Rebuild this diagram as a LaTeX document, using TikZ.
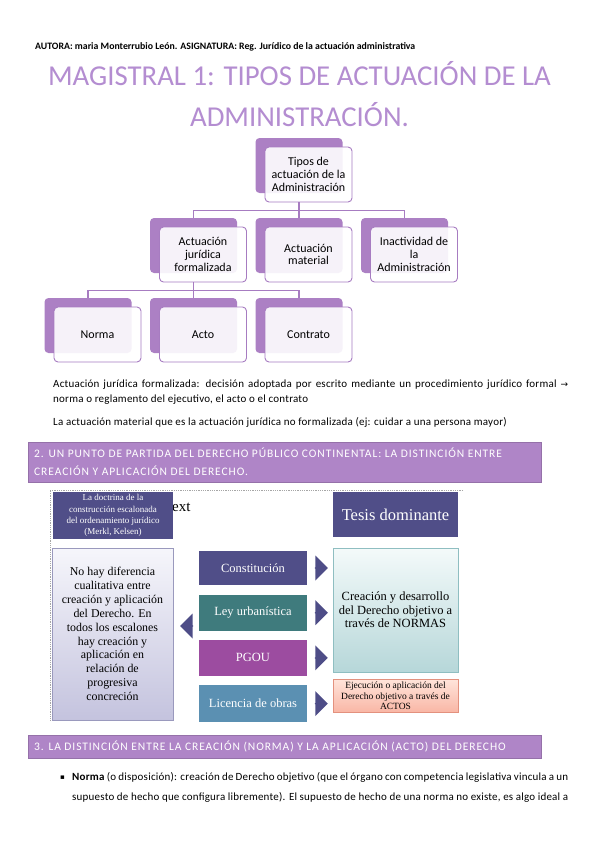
\documentclass[tikz,border=0pt]{standalone}
\usepackage{fontspec}
\setmainfont{Carlito}
\newfontfamily\bodyfont[LetterSpace=2]{Carlito}
\newfontfamily\diagserif{Liberation Serif}
\newfontfamily\bandfont[LetterSpace=8]{Carlito}
\newfontfamily\symfont{DejaVu Sans}
\usetikzlibrary{positioning, shadows, shapes.arrows}
\definecolor{ctitle}{HTML}{B48DD1}
\definecolor{cback}{HTML}{AC80C4}
\definecolor{cline}{HTML}{A77CC1}
\definecolor{cband}{HTML}{AF85C7}
\definecolor{cslate}{HTML}{504E88}
\definecolor{cteal}{HTML}{3F7B7D}
\definecolor{cmagenta}{HTML}{9C4CA0}
\definecolor{csteel}{HTML}{5B90B2}
\definecolor{carrow}{HTML}{4E4D87}
\definecolor{cleftA}{HTML}{F6F6FB}
\definecolor{cleftB}{HTML}{C4C3DE}
\definecolor{cleftline}{HTML}{9A99BD}
\definecolor{ctealA}{HTML}{F4FAFA}
\definecolor{ctealB}{HTML}{B6D7D9}
\definecolor{ctealline}{HTML}{8FBEC1}
\definecolor{csalmonA}{HTML}{FFE4DA}
\definecolor{csalmonB}{HTML}{F9B6A5}
\definecolor{csalmonline}{HTML}{E3917E}

\begin{document}
\begin{tikzpicture}[x=1pt, y=-1pt,
    level distance=80pt, sibling distance=105.5pt,
    edge from parent/.style={draw=cline, line width=1.2pt},
    edge from parent path={([xshift=-9.5pt]\tikzparentnode.south) -- ++(0,-8pt) -| ([xshift=-9.5pt,yshift=9pt]\tikzchildnode.north)},
    tbox/.style={draw=cline, line width=0.9pt, fill=white, fill opacity=0.9, text opacity=1, rounded corners=4pt, minimum width=87pt, minimum height=55pt, inner sep=1pt, align=center, font=\fontsize{12}{12.8}\selectfont, general shadow={fill=cback, fill opacity=1, shadow xshift=-9.5pt, shadow yshift=9pt}},
    bodytext/.style={anchor=base west, inner sep=0pt, font=\bodyfont\fontsize{11}{13}\selectfont},
    band/.style={fill=cband, draw=cband!85!black, line width=0.4pt},
    bandtext/.style={anchor=base west, inner sep=0pt, text=white, font=\bandfont\fontsize{11.5}{13}\selectfont},
    darkbox/.style={fill=#1, draw=white, line width=1.2pt, text=white, align=center, inner sep=1pt, font=\diagserif\fontsize{12.5}{14}\selectfont},
    levelbox/.style={darkbox=#1, minimum width=110pt, minimum height=37pt},
    lightbox/.style={draw=#1line, top color=#1A, bottom color=#1B, align=center, inner sep=1pt},
    rarrow/.style={single arrow, fill=carrow, minimum height=13pt, minimum width=25pt, single arrow head extend=4pt, inner sep=0pt},
    canvasline/.style={draw=gray!70, densely dotted, line width=0.8pt},
]
\path[use as bounding box, fill=white] (0,0) rectangle (599,848);

\node[anchor=base west, inner sep=0pt, font=\bfseries\fontsize{9.8}{11}\selectfont] (autora) at (35,50) {AUTORA: maria Monterrubio León. ASIGNATURA: Reg. Jurídico de la actuación administrativa};
\node[anchor=base, inner sep=0pt, text=ctitle, font=\fontsize{28.8}{32}\selectfont] (titulo1) at (299.5,86) {MAGISTRAL 1: TIPOS DE ACTUACIÓN DE LA};
\node[anchor=base, inner sep=0pt, text=ctitle, font=\fontsize{28.8}{32}\selectfont] (titulo2) at (299.5,126) {ADMINISTRACIÓN.};

% tipos de actuacion
\node[tbox] (tipos) at (308.5,174.5) {Tipos de\\actuación de la\\Administración}
    child {node[tbox] (juridica) {Actuación\\jurídica\\formalizada}
        child {node[tbox] (norma) {Norma}}
        child {node[tbox] (acto) {Acto}}
        child {node[tbox] (contrato) {Contrato}}
    }
    child {node[tbox] (material) {Actuación\\material}}
    child {node[tbox] (inactividad) {Inactividad de\\la\\Administración}};

\node[bodytext] (def1) at (53,387) {\makebox[515pt][s]{Actuación jurídica formalizada: decisión adoptada por escrito mediante un procedimiento jurídico formal {\symfont\fontsize{9}{10}\selectfont →}}};
\node[bodytext] (def2) at (53,402) {norma o reglamento del ejecutivo, el acto o el contrato};
\node[bodytext] (def3) at (53,425) {La actuación material que es la actuación jurídica no formalizada (ej: cuidar a una persona mayor)};

\draw[band] (28,442) rectangle (541,482);
\node[bandtext] (sec2a) at (34,457) {2. UN PUNTO DE PARTIDA DEL DERECHO PÚBLICO CONTINENTAL: LA DISTINCIÓN ENTRE};
\node[bandtext] (sec2b) at (34,475) {CREACIÓN Y APLICACIÓN DEL DERECHO.};

% escalones del ordenamiento
\draw[canvasline] (463,490) -- (50,490) -- (50,720);
\node[anchor=base west, inner sep=0pt, font=\diagserif\fontsize{15}{15}\selectfont] (ext) at (172,511) {ext};
\node[darkbox=cslate, draw=none, minimum width=120pt, minimum height=47pt, font=\diagserif\fontsize{9}{11.3}\selectfont] (doctrina) at (113,515.5) {La doctrina de la\\construcción escalonada\\del ordenamiento jurídico\\(Merkl, Kelsen)};
\node[darkbox=cslate, draw=none, minimum width=125pt, minimum height=45pt, font=\diagserif\fontsize{16.5}{18}\selectfont] (tesis) at (395.5,514.5) {Tesis dominante};

\node[lightbox=cleft, minimum width=121pt, minimum height=172pt, font=\diagserif\fontsize{11.9}{13.9}\selectfont] (nohay) at (112.5,634) {No hay diferencia\\cualitativa entre\\creación y aplicación\\del Derecho. En\\todos los escalones\\hay creación y\\aplicación en\\relación de\\progresiva\\concreción};

\node[levelbox=cslate, minimum height=36pt] (constitucion) at (253,568) {Constitución};
\node[levelbox=cteal, below=7pt of constitucion] (ley) {Ley urbanística};
\node[levelbox=cmagenta, below=7pt of ley] (pgou) {PGOU};
\node[levelbox=csteel, below=7pt of pgou, minimum height=38pt] (licencia) {Licencia de obras};

\node[rarrow, right=6pt of constitucion] (flecha1) {};
\node[rarrow, right=6pt of ley] (flecha2) {};
\node[rarrow, right=6pt of pgou] (flecha3) {};
\node[rarrow, right=6pt of licencia] (flecha4) {};
\node[rarrow, shape border rotate=180] (flechaizq) at (187,626) {};

\node[lightbox=cteal, minimum width=125pt, minimum height=124pt, font=\diagserif\fontsize{12.5}{13.5}\selectfont] (creacion) at (395.5,610) {Creación y desarrollo\\del Derecho objetivo a\\través de NORMAS};
\node[lightbox=csalmon, below=7pt of creacion, minimum width=125pt, minimum height=33pt, font=\diagserif\fontsize{9.5}{10.5}\selectfont] (ejecucion) {Ejecución o aplicación del\\Derecho objetivo a través de\\ACTOS};

\draw[band] (28,735) rectangle (541,758);
\node[bandtext] (sec3) at (34,750) {3. LA DISTINCIÓN ENTRE LA CREACIÓN (NORMA) Y LA APLICACIÓN (ACTO) DEL DERECHO};

\node[bodytext, font=\symfont\fontsize{7}{8}\selectfont] (vineta) at (60,779) {▪};
\node[bodytext] (norma1) at (72,780) {\makebox[496pt][s]{\textbf{Norma} (o disposición): creación de Derecho objetivo (que el órgano con competencia legislativa vincula a un}};
\node[bodytext] (norma2) at (72,800) {\makebox[496pt][s]{supuesto de hecho que configura libremente). El supuesto de hecho de una norma no existe, es algo ideal a}};
\end{tikzpicture}
\end{document}
